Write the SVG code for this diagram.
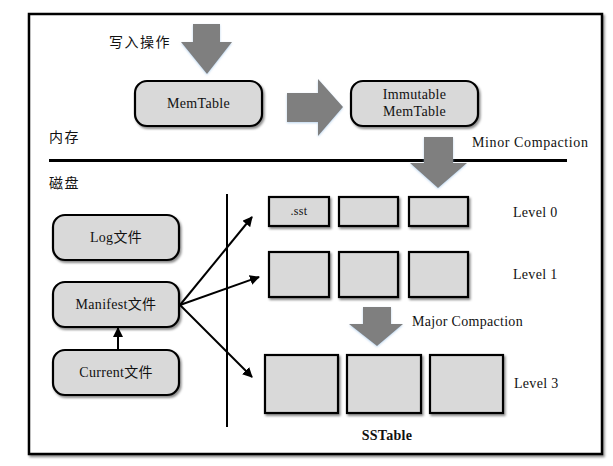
<svg xmlns="http://www.w3.org/2000/svg" width="613" height="466" viewBox="0 0 613 466">
<defs>
<filter id="sh" x="-10%" y="-10%" width="130%" height="140%">
<feDropShadow dx="1.5" dy="2" stdDeviation="1" flood-color="#000" flood-opacity="0.45"/>
</filter>
<filter id="gl" x="-20%" y="-20%" width="140%" height="140%">
<feDropShadow dx="0" dy="1" stdDeviation="1.2" flood-color="#9ec3e6" flood-opacity="0.7"/>
</filter>
<marker id="ah" viewBox="0 0 10 10" refX="9" refY="5" markerWidth="10" markerHeight="10" markerUnits="userSpaceOnUse" orient="auto">
<path d="M0,0 L10,5 L0,10 z" fill="#000"/>
</marker>
</defs>
<style>
.t{font-family:"Liberation Serif","Noto Sans CJK SC",serif;font-size:14px;fill:#111;letter-spacing:0.3px}
.c{text-anchor:middle}
.cj{letter-spacing:1.5px}
.rb{fill:#d9d9d9;stroke:#000;stroke-width:2.2;filter:url(#sh)}
.sq{fill:#d9d9d9;stroke:#000;stroke-width:2.2;filter:url(#sh)}
.big{fill:#7f7f7f;filter:url(#gl)}
.ln{stroke:#000;stroke-width:2;fill:none}
</style>
<rect width="613" height="466" fill="#fff"/>
<rect x="29" y="14" width="573" height="440" fill="#fff" stroke="#000" stroke-width="2.5" filter="url(#sh)"/>

<text class="t cj" x="109" y="47">写入操作</text>
<text class="t cj" x="49" y="142">内存</text>
<text class="t cj" x="49" y="188">磁盘</text>
<line x1="49" y1="160.5" x2="567" y2="160.5" stroke="#000" stroke-width="3"/>

<g id="arrow-write"><path class="big" d="M193,24 H220 V42 H232 L207,74 L181,42 H193 Z"/></g>
<g id="arrow-immutable"><path class="big" d="M287,93 H318 V79 L343,107 L318,136 V122 H287 Z"/></g>
<g id="arrow-minor"><path class="big" d="M424,137 H453 V163 H467 L438,188 L410,163 H424 Z"/></g>
<g id="arrow-major"><path class="big" d="M363,307 H391 V324 H403 L377,346 L349,324 H363 Z"/></g>

<g id="memtable"><rect class="rb" x="135" y="81" width="127" height="45" rx="12"/><text class="t c" x="198.5" y="108">MemTable</text></g>
<g id="immutable"><rect class="rb" x="351" y="81" width="127" height="45" rx="12"/><text class="t c" x="414.5" y="99">Immutable</text><text class="t c" x="414.5" y="116">MemTable</text></g>
<text class="t" x="472" y="147" style="letter-spacing:0.6px">Minor Compaction</text>

<g id="log"><rect class="rb" x="53" y="215" width="126" height="45" rx="12"/><text class="t c" x="116" y="242">Log文件</text></g>
<g id="manifest"><rect class="rb" x="53" y="282" width="126" height="45" rx="12"/><text class="t c" x="116" y="309">Manifest文件</text></g>
<g id="current"><rect class="rb" x="53" y="350" width="126" height="45" rx="12"/><text class="t c" x="116" y="377">Current文件</text></g>

<g id="connectors">
<line class="ln" x1="118" y1="350" x2="118" y2="328" marker-end="url(#ah)"/>
<line class="ln" x1="227" y1="194" x2="227" y2="427"/>
<line class="ln" x1="180" y1="305" x2="252" y2="217" marker-end="url(#ah)"/>
<line class="ln" x1="180" y1="305" x2="259" y2="277" marker-end="url(#ah)"/>
<line class="ln" x1="180" y1="305" x2="252" y2="377" marker-end="url(#ah)"/>
</g>

<g id="level0">
<rect class="sq" x="269" y="197" width="60" height="29"/><text class="t c" x="299" y="215" style="font-size:12px">.sst</text>
<rect class="sq" x="339" y="197" width="59" height="29"/>
<rect class="sq" x="409" y="197" width="59" height="29"/>
</g>
<text class="t" x="513" y="217">Level 0</text>
<g id="level1">
<rect class="sq" x="269" y="252" width="60" height="45"/>
<rect class="sq" x="339" y="252" width="59" height="45"/>
<rect class="sq" x="409" y="252" width="59" height="45"/>
</g>
<text class="t" x="513" y="279">Level 1</text>
<text class="t" x="412" y="326">Major Compaction</text>
<g id="level3">
<rect class="sq" x="265" y="355" width="73" height="58"/>
<rect class="sq" x="347" y="355" width="74" height="58"/>
<rect class="sq" x="430" y="355" width="73" height="58"/>
</g>
<text class="t" x="514" y="388">Level 3</text>
<text class="t c" x="387" y="440" style="font-weight:bold">SSTable</text>
</svg>
